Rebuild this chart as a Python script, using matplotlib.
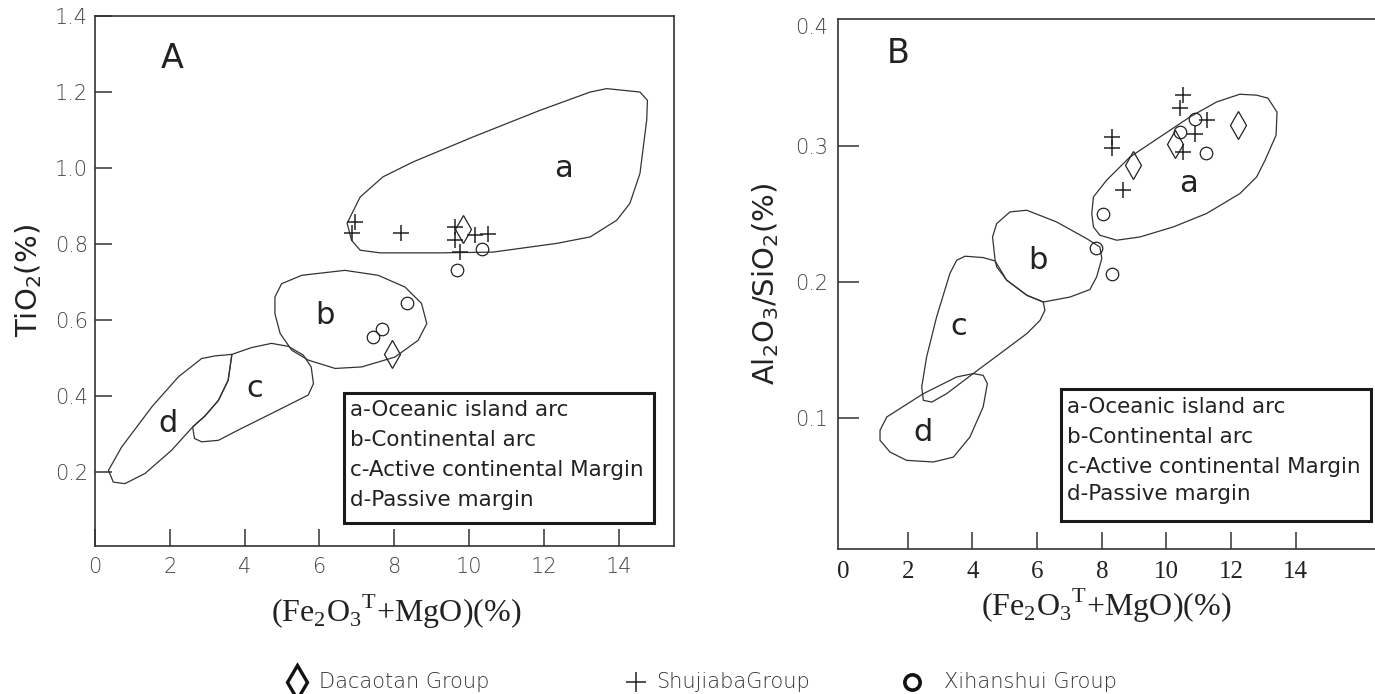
import matplotlib
matplotlib.use("Agg")
import matplotlib.pyplot as plt
from matplotlib.patches import Polygon, Rectangle
from matplotlib.lines import Line2D

# ---------------- panel A : TiO2 vs (Fe2O3T+MgO) ----------------
A_field_a = [(6.74, 0.855), (7.09, 0.924), (7.70, 0.977), (8.50, 1.016), (10.11, 1.082),
             (11.90, 1.152), (13.24, 1.200), (13.68, 1.209), (14.57, 1.200), (14.77, 1.178),
             (14.75, 1.126), (14.57, 0.986), (14.30, 0.907), (13.95, 0.863), (13.24, 0.819),
             (12.35, 0.802), (10.64, 0.779), (9.22, 0.777), (7.62, 0.777), (7.09, 0.784),
             (6.86, 0.810)]
A_field_b = [(4.81, 0.661), (4.99, 0.696), (5.53, 0.718), (6.68, 0.731), (7.57, 0.718),
             (8.29, 0.687), (8.73, 0.644), (8.87, 0.591), (8.64, 0.547), (8.02, 0.503),
             (7.13, 0.477), (6.42, 0.473), (5.70, 0.495), (5.26, 0.521), (4.95, 0.565),
             (4.81, 0.617)]
A_field_c = [(3.66, 0.510), (4.19, 0.528), (4.72, 0.539), (5.17, 0.531), (5.57, 0.508),
             (5.78, 0.477), (5.84, 0.433), (5.70, 0.403), (4.81, 0.359), (3.83, 0.311),
             (3.30, 0.284), (2.85, 0.280), (2.66, 0.289), (2.61, 0.319), (2.94, 0.348),
             (3.30, 0.389), (3.56, 0.442)]
A_field_d = [(3.66, 0.510), (3.56, 0.442), (3.30, 0.389), (2.94, 0.348), (2.61, 0.319),
             (2.05, 0.258), (1.34, 0.197), (0.80, 0.170), (0.49, 0.174), (0.36, 0.205),
             (0.71, 0.266), (1.52, 0.372), (2.23, 0.451), (2.85, 0.499), (3.21, 0.506)]

A_dacaotan_x = [9.85, 7.93]
A_dacaotan_y = [0.841, 0.512]
A_shujiaba_x = [6.95, 6.86, 8.17, 9.63, 9.63, 9.76, 10.16, 10.52]
A_shujiaba_y = [0.858, 0.828, 0.830, 0.845, 0.810, 0.779, 0.823, 0.826]
A_xihanshui_x = [10.34, 9.67, 8.33, 7.66, 7.42]
A_xihanshui_y = [0.788, 0.731, 0.645, 0.576, 0.556]

A_field_labels = ["a", "b", "c", "d"]
A_field_label_x = [12.52, 6.15, 4.28, 1.96]
A_field_label_y = [0.999, 0.613, 0.420, 0.328]

# ---------------- panel B : Al2O3/SiO2 vs (Fe2O3T+MgO) ----------------
B_field_a = [(7.69, 0.2505), (7.74, 0.2627), (8.15, 0.2751), (8.87, 0.2922), (9.80, 0.3070),
             (10.73, 0.3218), (11.55, 0.3328), (12.27, 0.3385), (12.79, 0.3378), (13.14, 0.3356),
             (13.42, 0.3252), (13.39, 0.3083), (13.05, 0.2898), (12.79, 0.2775), (12.27, 0.2652),
             (11.24, 0.2505), (10.21, 0.2406), (9.18, 0.2332), (8.46, 0.2308), (7.94, 0.2345),
             (7.74, 0.2406)]
B_field_b = [(4.70, 0.2160), (4.62, 0.2332), (4.75, 0.2431), (5.16, 0.2517), (5.68, 0.2529),
             (6.60, 0.2443), (7.53, 0.2320), (7.94, 0.2258), (8.00, 0.2173), (7.84, 0.2037),
             (7.63, 0.1944), (7.02, 0.1889), (6.19, 0.1852), (5.68, 0.1902), (5.06, 0.2013),
             (4.75, 0.2111)]
B_field_c = [(3.51, 0.2160), (3.77, 0.2190), (4.33, 0.2180), (4.70, 0.2155), (5.06, 0.2013),
             (5.68, 0.1902), (6.19, 0.1852), (6.24, 0.1791), (6.09, 0.1717), (5.68, 0.1619),
             (4.85, 0.1471), (4.02, 0.1324), (3.20, 0.1176), (2.74, 0.1114), (2.48, 0.1127),
             (2.43, 0.1225), (2.58, 0.1446), (2.89, 0.1742), (3.30, 0.2062)]
B_field_d = [(1.14, 0.0906), (1.35, 0.1004), (2.48, 0.1176), (3.51, 0.1299), (4.02, 0.1324),
             (4.33, 0.1311), (4.46, 0.1250), (4.33, 0.1078), (3.92, 0.0856), (3.41, 0.0708),
             (2.79, 0.0672), (1.96, 0.0684), (1.45, 0.0745), (1.14, 0.0832)]

B_dacaotan_x = [12.20, 10.26, 8.95]
B_dacaotan_y = [0.3157, 0.3020, 0.2861]
B_shujiaba_x = [10.50, 10.42, 8.30, 8.30, 11.24, 10.88, 10.52, 8.64]
B_shujiaba_y = [0.3378, 0.3280, 0.3070, 0.2985, 0.3193, 0.3095, 0.2959, 0.2677]
B_xihanshui_x = [10.88, 10.42, 11.22, 8.05, 7.82, 8.30]
B_xihanshui_y = [0.3199, 0.3107, 0.2952, 0.2500, 0.2247, 0.2062]

B_field_labels = ["a", "b", "c", "d"]
B_field_label_x = [10.67, 6.03, 3.59, 2.46]
B_field_label_y = [0.2726, 0.2160, 0.1668, 0.0893]

x_ticks = [0, 2, 4, 6, 8, 10, 12, 14]
x_ticklabels = ["0", "2", "4", "6", "8", "10", "12", "14"]
A_yticks = [0.2, 0.4, 0.6, 0.8, 1.0, 1.2, 1.4]
A_yticklabels = ["0.2", "0.4", "0.6", "0.8", "1.0", "1.2", "1.4"]
B_yticks = [0.1, 0.2, 0.3, 0.389]
B_yticklabels = ["0.1", "0.2", "0.3", "0.4"]

key_lines = ["a-Oceanic island arc", "b-Continental arc",
             "c-Active continental Margin", "d-Passive margin"]
groups = ["Dacaotan Group", "ShujiabaGroup", "Xihanshui Group"]

xlabel = r"(Fe$_\mathregular{2}$O$_\mathregular{3}$$^\mathregular{T}$+MgO)(%)"

INK = "#222222"
W, H = 1375, 694
fig = plt.figure(figsize=(W / 100, H / 100), dpi=100)


def px_box(l, t, r, b):
    return [l / W, 1 - b / H, (r - l) / W, (b - t) / H]


axA = fig.add_axes(px_box(95, 16, 674, 546))
axB = fig.add_axes(px_box(838, 19, 1375, 549))


def draw_panel(ax, fields, labels, lx, ly, dx, dy, sx, sy, ox, oy):
    for f in fields:
        ax.add_patch(Polygon(f, closed=True, fill=False, lw=0.9, ec="#333333"))
    for t, x, y in zip(labels, lx, ly):
        ax.text(x, y, t, fontsize=22, color=INK, ha="center", va="center")
    ax.plot(sx, sy, ls="none", marker="+", ms=12, mew=1.1, color=INK)
    ax.plot(ox, oy, ls="none", marker="o", ms=9, mew=0.9, mfc="none", mec=INK)
    ax.plot(dx, dy, ls="none", marker="d", ms=14, mew=0.9, mfc="none", mec=INK)
    for s in ax.spines.values():
        s.set_linewidth(1.2)
        s.set_color("#333333")


draw_panel(axA, [A_field_a, A_field_b, A_field_c, A_field_d], A_field_labels,
           A_field_label_x, A_field_label_y, A_dacaotan_x, A_dacaotan_y,
           A_shujiaba_x, A_shujiaba_y, A_xihanshui_x, A_xihanshui_y)
draw_panel(axB, [B_field_a, B_field_b, B_field_c, B_field_d], B_field_labels,
           B_field_label_x, B_field_label_y, B_dacaotan_x, B_dacaotan_y,
           B_shujiaba_x, B_shujiaba_y, B_xihanshui_x, B_xihanshui_y)

# panel A axes
axA.set_xlim(0, 15.48)
axA.set_ylim(0.006, 1.4)
axA.set_xticks(x_ticks)
axA.set_xticklabels(x_ticklabels, fontsize=15, color="#444444", fontweight="light")
axA.set_yticks(A_yticks)
axA.set_yticklabels(A_yticklabels, fontsize=15, color="#444444", fontweight="light")
axA.tick_params(axis="x", direction="in", length=12, width=1.1, color="#333333", pad=8)
axA.tick_params(axis="y", direction="in", length=12, width=1.1, color="#333333", pad=5)
axA.text(2.05, 1.288, "A", fontsize=24, color=INK, ha="center", va="center")
axA.set_ylabel(r"TiO$_2$(%)", fontsize=21, color=INK, labelpad=8)
axA.set_xlabel(xlabel, fontsize=23, family="Liberation Serif", color=INK)
axA.xaxis.set_label_coords(0.52, -0.088)

# panel B axes
axB.set_xlim(-0.16, 16.45)
axB.set_ylim(0.003, 0.394)
axB.set_xticks(x_ticks)
axB.set_xticklabels(x_ticklabels, fontsize=18, family="Liberation Serif", color=INK)
axB.set_yticks(B_yticks)
axB.set_yticklabels(B_yticklabels, fontsize=15, color="#444444", fontweight="light")
axB.tick_params(axis="x", direction="in", length=12, width=1.1, color="#333333", pad=9)
axB.tick_params(axis="y", direction="in", length=15, width=1.1, color="#333333", pad=7)
axB.xaxis.get_major_ticks()[0].tick1line.set_visible(False)
axB.yaxis.get_major_ticks()[-1].tick1line.set_visible(False)
axB.spines["right"].set_visible(False)
axB.text(1.70, 0.3686, "B", fontsize=24, color=INK, ha="center", va="center")
axB.set_ylabel(r"Al$_2$O$_3$/SiO$_2$(%)", fontsize=21, color=INK, labelpad=10)
axB.set_xlabel(xlabel, fontsize=23, family="Liberation Serif", color=INK, labelpad=2)

# key boxes (pixel layout)
for (l, t, r, b), tx, rows in [((344, 393, 654, 523), 350, [410, 440, 470, 500]),
                               ((1061, 389, 1371, 521), 1067, [407, 437, 467, 494])]:
    x0, y0, w, h = px_box(l, t, r, b)
    fig.add_artist(Rectangle((x0, y0), w, h, transform=fig.transFigure,
                             fill=True, fc="white", ec="#1a1a1a", lw=2.2, zorder=5))
    for s, ry in zip(key_lines, rows):
        fig.text(tx / W, 1 - ry / H, s, fontsize=15.5, color=INK, ha="left",
                 va="center", zorder=6)

# bottom legend
mk = [("d", 297, dict(ms=17, mew=2.4, mfc="none", mec="#111111")),
      ("+", 636, dict(ms=14, mew=1.1, color=INK)),
      ("o", 912, dict(ms=11, mew=2.6, mfc="none", mec="#111111"))]
text_x = [319, 656, 944]
for (m, px, kw), tx, g in zip(mk, text_x, groups):
    fig.add_artist(Line2D([px / W], [1 - 682 / H], marker=m, ls="none",
                          transform=fig.transFigure, **kw))
    fig.text(tx / W, 1 - 682 / H, g, fontsize=15, color="#333333", ha="left",
             va="center", fontweight="light")

fig.savefig("out.png", dpi=100)
